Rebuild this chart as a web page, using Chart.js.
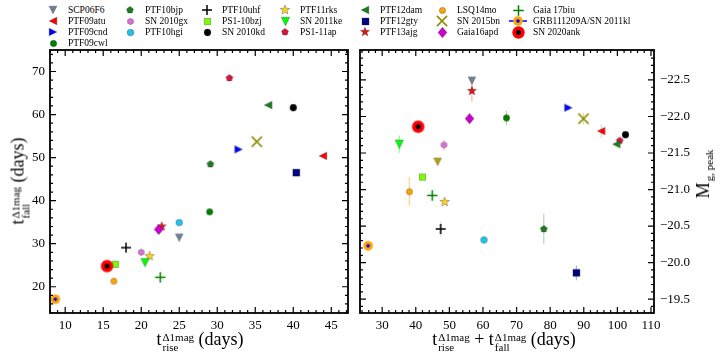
<!DOCTYPE html>
<html>
<head>
<meta charset="utf-8">
<script src="https://cdn.jsdelivr.net/npm/chart.js@4.4.1/dist/chart.umd.min.js"></script>
<style>
body { margin: 0; background: #fff; }
#wrap { position: relative; width: 720px; height: 360px; overflow: hidden;
        font-family: "Liberation Serif", "Times New Roman", serif; color: #000; }
canvas.plot { position: absolute; top: 0; }
.lgt { position: absolute; font-size: 9.5px; line-height: 10px; white-space: nowrap; }
.lgi { position: absolute; }
.ttl { position: absolute; font-size: 18px; line-height: 20px; white-space: nowrap; }
.ss { display: inline-flex; flex-direction: column; font-size: 11px; line-height: 10px;
      vertical-align: 4px; margin-left: 1px; }
.sb { font-size: 11px; vertical-align: -4px; margin-left: 1px; }
</style>
</head>
<body>
<div id="wrap">
  <div id="legend"></div>
  <canvas id="left" class="plot" width="354" height="360" style="left:0"></canvas>
  <canvas id="right" class="plot" width="366" height="360" style="left:354px"></canvas>

  <div class="ttl" style="left:200px; top:329px; transform:translateX(-50%)">t<span class="ss"><span>Δ1mag</span><span>rise</span></span> (days)</div>
  <div class="ttl" style="left:504px; top:329px; transform:translateX(-50%)">t<span class="ss"><span>Δ1mag</span><span>rise</span></span> + t<span class="ss"><span>Δ1mag</span><span>fall</span></span> (days)</div>
  <div class="ttl" style="left:19px; top:181px; transform:translate(-50%,-50%) rotate(-90deg)">t<span class="ss"><span>Δ1mag</span><span>fall</span></span> (days)</div>
  <div class="ttl" style="left:706px; top:174px; transform:translate(-50%,-50%) rotate(-90deg)">M<span class="sb">g, peak</span></div>
</div>

<script>
// objects, in legend order
var names = ['SCP06F6', 'PTF09atu', 'PTF09cnd', 'PTF09cwl', 'PTF10bjp', 'SN 2010gx',
  'PTF10hgi', 'PTF10uhf', 'PS1-10bzj', 'SN 2010kd', 'PTF11rks', 'SN 2011ke',
  'PS1-11ap', 'PTF12dam', 'PTF12gty', 'PTF13ajg', 'LSQ14mo', 'SN 2015bn',
  'Gaia16apd', 'Gaia 17biu', 'GRB111209A/SN 2011kl', 'SN 2020ank'];

// left panel
var tRise = [25.0, 43.9, 32.8, 29.0, 29.1, 20.0, 25.0, 18.0, 16.6, 40.0, 21.1,
  20.5, 31.6, 36.7, 40.4, 22.7, 16.4, 35.2, 22.3, 22.5, 8.7, 15.5];
var tFall = [31.4, 50.4, 51.9, 37.4, 48.5, 28.0, 34.9, 29.1, 25.2, 61.6, 27.1,
  25.6, 68.5, 62.2, 46.5, 34.0, 21.3, 53.7, 33.3, 22.2, 17.1, 24.8];

// right panel
var tSum = [56.7, 95.2, 85.4, 67.0, 78.1, 48.4, 60.3, 47.4, 42.0, 102.4, 48.6,
  35.1, 100.7, 99.7, 87.8, 56.7, 38.1, 89.9, 56.0, 44.9, 25.8, 40.7];
var mPeak = [-22.49, -21.80, -22.12, -21.98, -20.46, -21.61, -20.31, -20.46, -21.17,
  -21.75, -20.83, -21.62, -21.67, -21.62, -19.86, -22.35, -20.97, -21.97, -21.97,
  -20.92, -20.23, -21.86];
var mErr = [0.02, 0.09, 0.03, 0.1, 0.21, 0.08, 0.05, 0.1, 0.02, 0.02, 0.03, 0.12,
  0.03, 0.02, 0.1, 0.15, 0.2, 0.08, 0.03, 0.02, 0.07, 0.03];

// the extra olive triangle of the right panel, no legend entry
var extraSum = [46.5];
var extraPeak = [-21.38];
var extraErr = [0.02];

// tick labels
var leftXTicks = [10, 15, 20, 25, 30, 35, 40, 45];
var leftYTicks = [20, 30, 40, 50, 60, 70];
var rightXTicks = [30, 40, 50, 60, 70, 80, 90, 100, 110];
var rightYTicks = [-22.5, -22.0, -21.5, -21.0, -20.5, -20.0, -19.5];

// marker styles: shape, colour, size, (inner colour, inner size)
var styles = [
  ['down', '#708090', 3.8], ['left', '#ff0000', 3.8], ['right', '#0000ff', 3.8],
  ['circle', '#008000', 3.2], ['pent', '#1e7b1e', 3.6], ['hex', '#da70d6', 3.3],
  ['circle', '#1ec3f0', 3.3], ['plus', '#000000', 5], ['square', '#7cfc00', 3.2],
  ['circle', '#000000', 3.4], ['star', '#ffd21f', 5], ['down', '#00ff00', 4.2],
  ['pent', '#dc143c', 3.6], ['left', '#1a7f1a', 3.8], ['square', '#000080', 3.5],
  ['star', '#e01515', 4.8], ['circle', '#ffa500', 3.1], ['x', '#8b8b00', 6],
  ['diamond', '#cc00cc', 5.2], ['plus', '#008000', 5.2],
  ['ring', '#ffa500', 4.8, '#0000ff', 1.8], ['ring', '#ff0000', 6.2, '#000000', 2.5]
];
var extraStyle = ['down', '#b8a200', 3.8];
var errColours = ['rgba(112,128,144,0.4)', 'rgba(150,150,150,0.4)', 'rgba(0,0,255,0.3)',
  'rgba(0,128,0,0.35)', 'rgba(0,128,0,0.3)', 'rgba(218,112,214,0.35)', 'rgba(30,195,240,0.35)',
  'rgba(0,0,0,0.15)', 'rgba(124,252,0,0.4)', 'rgba(0,0,0,0.2)', 'rgba(255,210,31,0.4)',
  'rgba(0,255,0,0.45)', 'rgba(220,20,60,0.3)', 'rgba(0,128,0,0.3)', 'rgba(0,0,128,0.3)',
  'rgba(255,80,80,0.45)', 'rgba(255,165,0,0.45)', 'rgba(139,139,0,0.3)', 'rgba(204,0,204,0.3)',
  'rgba(0,128,0,0.3)', 'rgba(0,0,255,0.25)', 'rgba(255,0,0,0.3)'];

function makeMarker(st) {
  var shape = st[0], fill = st[1], r = st[2];
  var s = Math.ceil(2 * r + 4), m = s / 2;
  var c = document.createElement('canvas');
  c.width = c.height = s;
  var g = c.getContext('2d');
  g.fillStyle = fill;
  g.strokeStyle = 'rgba(40,40,40,0.55)';
  g.lineWidth = 0.6;
  function poly(pts) {
    g.beginPath();
    pts.forEach(function (p, i) { if (i) g.lineTo(m + p[0], m + p[1]); else g.moveTo(m + p[0], m + p[1]); });
    g.closePath(); g.fill(); g.stroke();
  }
  function ngon(n, rr, inner) {
    var p = [], k = inner ? 2 * n : n;
    for (var i = 0; i < k; i++) {
      var a = -Math.PI / 2 + i * 2 * Math.PI / k;
      var q = inner && i % 2 ? rr * inner : rr;
      p.push([q * Math.cos(a), q * Math.sin(a)]);
    }
    return p;
  }
  if (shape === 'circle') {
    g.beginPath(); g.arc(m, m, r, 0, 2 * Math.PI); g.fill(); g.stroke();
  } else if (shape === 'down') poly([[-r, -r], [r, -r], [0, r]]);
  else if (shape === 'left') poly([[r, -r], [r, r], [-r, 0]]);
  else if (shape === 'right') poly([[-r, -r], [-r, r], [r, 0]]);
  else if (shape === 'square') poly([[-r, -r], [r, -r], [r, r], [-r, r]]);
  else if (shape === 'diamond') poly([[0, -r], [r * 0.85, 0], [0, r], [-r * 0.85, 0]]);
  else if (shape === 'pent') poly(ngon(5, r));
  else if (shape === 'hex') poly(ngon(6, r));
  else if (shape === 'star') poly(ngon(5, r, 0.42));
  else if (shape === 'plus' || shape === 'x') {
    g.strokeStyle = fill; g.lineWidth = 1.5;
    g.beginPath();
    if (shape === 'plus') {
      g.moveTo(m - r, m); g.lineTo(m + r, m); g.moveTo(m, m - r); g.lineTo(m, m + r);
    } else {
      var d = r * 0.85;
      g.moveTo(m - d, m - d); g.lineTo(m + d, m + d); g.moveTo(m - d, m + d); g.lineTo(m + d, m - d);
    }
    g.stroke();
  } else if (shape === 'ring') {
    g.beginPath(); g.arc(m, m, r, 0, 2 * Math.PI); g.fill();
    g.fillStyle = st[3];
    g.beginPath(); g.arc(m, m, st[4], 0, 2 * Math.PI); g.fill();
  }
  return c;
}

var icons = styles.map(makeMarker);
var extraIcon = makeMarker(extraStyle);

// legend, 7 columns filled column by column
var colX = [53, 130, 207, 285, 365, 442, 518];
var rowY = [10, 21, 32, 43];
var legend = document.getElementById('legend');
var k = 0;
colX.forEach(function (cx, c) {
  var rows = c === 0 ? 4 : 3;
  for (var r = 0; r < rows; r++, k++) {
    var src = icons[k];
    var ic = document.createElement('canvas');
    var grb = names[k].indexOf('GRB') === 0;
    ic.width = grb ? 18 : src.width;
    ic.height = src.height;
    var g = ic.getContext('2d');
    if (grb) {
      g.strokeStyle = '#0000ff'; g.lineWidth = 1.5;
      g.beginPath(); g.moveTo(0, ic.height / 2); g.lineTo(ic.width, ic.height / 2); g.stroke();
    }
    g.drawImage(src, (ic.width - src.width) / 2, 0);
    ic.className = 'lgi';
    ic.style.left = (cx - ic.width / 2) + 'px';
    ic.style.top = (rowY[r] - ic.height / 2) + 'px';
    legend.appendChild(ic);
    var t = document.createElement('span');
    t.className = 'lgt';
    t.textContent = names[k];
    t.style.left = (cx + 15) + 'px';
    t.style.top = (rowY[r] - 5) + 'px';
    legend.appendChild(t);
  }
});

// frame with inward major and minor ticks on all four sides
var framePlugin = {
  id: 'frame',
  afterDatasetsDraw: function (chart, args, opts) {
    var ctx = chart.ctx, a = chart.chartArea;
    var xs = chart.scales.x, ys = chart.scales.y;
    ctx.save();
    ctx.strokeStyle = '#000';
    ctx.lineWidth = 1.2;
    ctx.beginPath();
    function minor(sc, step, fn) {
      var i0 = Math.ceil(Math.min(sc.min, sc.max) / step - 1e-6);
      var i1 = Math.floor(Math.max(sc.min, sc.max) / step + 1e-6);
      for (var i = i0; i <= i1; i++) fn(sc.getPixelForValue(i * step), 3);
    }
    function major(sc, fn) {
      sc.ticks.forEach(function (t) { fn(sc.getPixelForValue(t.value), 6); });
    }
    function xt(px, len) {
      ctx.moveTo(px, a.bottom); ctx.lineTo(px, a.bottom - len);
      ctx.moveTo(px, a.top); ctx.lineTo(px, a.top + len);
    }
    function yt(py, len) {
      ctx.moveTo(a.left, py); ctx.lineTo(a.left + len, py);
      ctx.moveTo(a.right, py); ctx.lineTo(a.right - len, py);
    }
    minor(xs, opts.xMinor, xt); major(xs, xt);
    minor(ys, opts.yMinor, yt); major(ys, yt);
    ctx.stroke();
    ctx.lineWidth = 1.8;
    ctx.strokeRect(a.left, a.top, a.right - a.left, a.bottom - a.top);
    ctx.restore();
  }
};

Chart.defaults.font.family = '"Liberation Serif", "Times New Roman", serif';
Chart.defaults.font.size = 13;
Chart.defaults.color = '#000';

function pointSets(xs, ys) {
  return names.map(function (n, i) {
    return { label: n, data: [{ x: xs[i], y: ys[i] }], pointStyle: icons[i],
      pointRadius: 5, order: names.length - i + 1, clip: false };
  });
}

function axis(min, max, ticks, extra) {
  var o = {
    type: 'linear', min: min, max: max,
    grid: { display: false, drawTicks: false },
    border: { display: false },
    afterBuildTicks: function (s) { s.ticks = ticks.map(function (v) { return { value: v }; }); },
    ticks: { autoSkip: false, maxRotation: 0, padding: 5 }
  };
  for (var key in extra) o[key] = extra[key];
  return o;
}

function baseOptions(scales, minors, padding) {
  return {
    responsive: false,
    animation: false,
    events: [],
    layout: { padding: padding },
    plugins: { legend: { display: false }, tooltip: { enabled: false }, frame: minors },
    scales: scales
  };
}

new Chart(document.getElementById('left'), {
  type: 'scatter',
  data: { datasets: pointSets(tRise, tFall) },
  options: baseOptions({
    x: axis(8, 47.2, leftXTicks, { afterFit: function (s) { s.height = 47; } }),
    y: axis(13.9, 75, leftYTicks, { afterFit: function (s) { s.width = 50; } })
  }, { xMinor: 1, yMinor: 2 }, { top: 50, right: 4, left: 0, bottom: 0 }),
  plugins: [framePlugin]
});

// error bars as one broken line, one colour per segment
var errData = [];
tSum.forEach(function (x, i) {
  errData.push({ x: x, y: mPeak[i] - mErr[i] }, { x: x, y: mPeak[i] + mErr[i] }, { x: x, y: null });
});
extraSum.forEach(function (x, i) {
  errData.push({ x: x, y: extraPeak[i] - extraErr[i] }, { x: x, y: extraPeak[i] + extraErr[i] }, { x: x, y: null });
});

var rightSets = pointSets(tSum, mPeak);
rightSets.push({ label: '', data: [{ x: extraSum[0], y: extraPeak[0] }], pointStyle: extraIcon,
  pointRadius: 5, order: names.length + 2, clip: false });
rightSets.push({
  type: 'line', label: 'err', data: errData, showLine: true, spanGaps: false,
  pointRadius: 0, borderWidth: 1.2, order: 100,
  segment: { borderColor: function (c) {
    var j = Math.floor(c.p0DataIndex / 3);
    return j < errColours.length ? errColours[j] : 'rgba(184,162,0,0.3)';
  } }
});

new Chart(document.getElementById('right'), {
  type: 'scatter',
  data: { datasets: rightSets },
  options: baseOptions({
    x: axis(23.4, 110.9, rightXTicks, { afterFit: function (s) { s.height = 47; } }),
    y: axis(-22.91, -19.31, rightYTicks, {
      position: 'right', reverse: true,
      afterFit: function (s) { s.width = 66; },
      ticks: { autoSkip: false, padding: 6,
        callback: function (v) { return (v < 0 ? '\u2212' : '') + Math.abs(v).toFixed(1); } }
    })
  }, { xMinor: 2, yMinor: 0.1 }, { top: 50, right: 0, left: 3, bottom: 0 }),
  plugins: [framePlugin]
});
</script>
</body>
</html>
